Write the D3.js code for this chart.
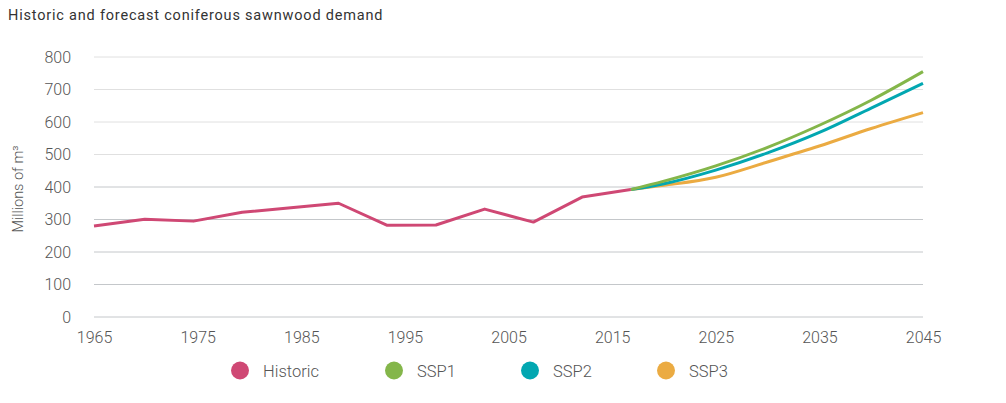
<!DOCTYPE html>
<html lang="en">
<head>
<meta charset="UTF-8">
<title>Historic and forecast coniferous sawnwood demand</title>
<script src="https://cdn.jsdelivr.net/npm/d3@7"></script>
<style>
  body { margin: 0; background: #fff; }
  svg text { font-family: Roboto, "Open Sans", sans-serif; }
</style>
</head>
<body>
<script>
const histYears = [1965, 1969.9, 1974.6, 1979.3, 1984.0, 1988.6, 1993.3, 1998.0, 2002.7, 2007.4, 2012.1, 2016.8];
const histValues = [280, 301, 295, 322, 336, 350, 282, 283, 332, 292, 369, 392];

const fcYears = [2016.8, 2020, 2025, 2030, 2035, 2040, 2045];
const ssp1 = [392, 418, 465, 522, 590, 667, 755];
const ssp2 = [392, 410, 452, 505, 568, 643, 719];
const ssp3 = [392, 405, 430, 477, 526, 580, 629];

const xTicks = [1965, 1975, 1985, 1995, 2005, 2015, 2025, 2035, 2045];
const yTicks = [0, 100, 200, 300, 400, 500, 600, 700, 800];

const seriesNames = ["Historic", "SSP1", "SSP2", "SSP3"];
const colors = ["#cf4874", "#84b64a", "#02a7b1", "#ebab42"];

const width = 1006, height = 403;
const marginLeft = 94, marginRight = 83, marginTop = 57, marginBottom = 86;

const svg = d3.select("body").append("svg")
  .attr("width", width).attr("height", height);

const x = d3.scaleLinear().domain([1965, 2045]).range([marginLeft, width - marginRight]);
const y = d3.scaleLinear().domain([0, 800]).range([height - marginBottom, marginTop]);

svg.append("text")
  .attr("x", 8).attr("y", 20)
  .attr("font-size", 14.5).attr("fill", "#333")
  .attr("letter-spacing", 0.8)
  .text("Historic and forecast coniferous sawnwood demand");

// grid
svg.append("g").selectAll("line").data(yTicks).join("line")
  .attr("x1", marginLeft).attr("x2", width - marginRight)
  .attr("y1", d => y(d)).attr("y2", d => y(d))
  .attr("stroke", d => d > 400 ? "#e0e0e0" : "#c4c7ca")
  .attr("stroke-width", 1);

// y axis labels
svg.append("g")
  .attr("transform", `translate(${marginLeft}, 0)`)
  .call(d3.axisLeft(y).tickValues(yTicks).tickSize(0).tickPadding(23))
  .call(g => g.select(".domain").remove())
  .call(g => g.selectAll("text").attr("font-size", 16).attr("fill", "#555")
    .attr("font-family", "Roboto, sans-serif").attr("font-weight", 300));

// x axis labels
svg.append("g")
  .attr("transform", `translate(0, ${height - marginBottom})`)
  .call(d3.axisBottom(x).tickValues(xTicks).tickFormat(d3.format("d")).tickSize(0).tickPadding(15))
  .call(g => g.select(".domain").remove())
  .call(g => g.selectAll("text").attr("font-size", 16).attr("fill", "#555")
    .attr("font-family", "Roboto, sans-serif").attr("font-weight", 300));

svg.append("text")
  .attr("transform", `translate(23, ${y(400) + 2}) rotate(-90)`)
  .attr("text-anchor", "middle")
  .attr("font-size", 14.5).attr("fill", "#555").attr("font-weight", 300)
  .text("Millions of m³");

const line = d3.line().x(d => x(d[0])).y(d => y(d[1]));
const smooth = d3.line().x(d => x(d[0])).y(d => y(d[1])).curve(d3.curveMonotoneX);

const lines = [
  { pts: d3.zip(fcYears, ssp3), c: colors[3], gen: smooth },
  { pts: d3.zip(fcYears, ssp2), c: colors[2], gen: smooth },
  { pts: d3.zip(fcYears, ssp1), c: colors[1], gen: smooth },
  { pts: d3.zip(histYears, histValues), c: colors[0], gen: line }
];

svg.append("g").selectAll("path").data(lines).join("path")
  .attr("d", d => d.gen(d.pts))
  .attr("fill", "none")
  .attr("stroke", d => d.c)
  .attr("stroke-width", 3)
  .attr("stroke-linejoin", "round");

// legend
const legendX = [240, 394, 530, 666];
const legend = svg.append("g").selectAll("g").data(seriesNames).join("g")
  .attr("transform", (d, i) => `translate(${legendX[i]}, 370.5)`);
legend.append("circle").attr("r", 9).attr("fill", (d, i) => colors[i]);
legend.append("text")
  .attr("x", 23).attr("y", 6)
  .attr("font-size", 16.5).attr("fill", "#555").attr("font-weight", 300)
  .text(d => d);
</script>
</body>
</html>
